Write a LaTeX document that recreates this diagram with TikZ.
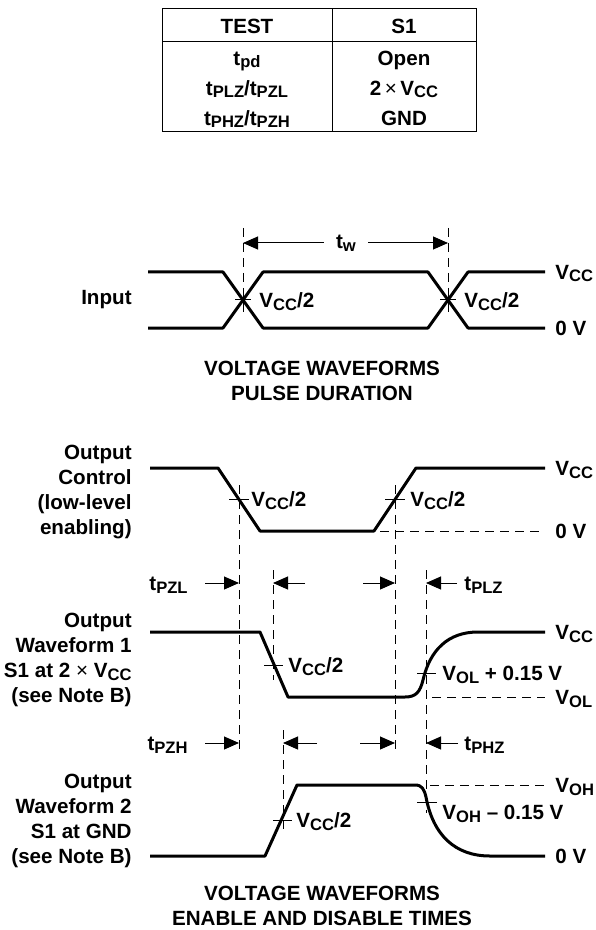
\documentclass[tikz,border=0pt]{standalone}
\usepackage{fontspec}
\setmainfont{Liberation Sans}
\usetikzlibrary{arrows.meta}
\newcommand{\lo}[1]{\raisebox{-1.4pt}{\fontsize{8.3}{8.3}\selectfont #1}}
\tikzset{
  wave/.style={line width=1.5pt, line join=round},
  thin/.style={line width=0.5pt},
  guide/.style={line width=0.5pt, dash pattern=on 4.5pt off 3pt},
  meas/.style={line width=0.5pt, -{Triangle[length=7.5pt,width=6.5pt]}},
  lvl/.style={anchor=base west, inner sep=0pt, yshift=-3.6pt},
  tlbl/.style={anchor=base east, inner sep=0pt, yshift=-3.6pt},
  cell/.style={anchor=base, inner sep=0pt, yshift=-3.6pt},
  sig/.style={anchor=east, align=right, inner sep=0pt}
}

\begin{document}
\begin{tikzpicture}[x=0.5pt,y=-0.5pt,font=\fontsize{10.3}{12.6}\selectfont\bfseries]
    \useasboundingbox (0,0) rectangle (595,930);

    \draw[thin] (162,9) rectangle (476,132);
    \draw[thin] (162,42) -- (476,42);
    \draw[thin] (332,9) -- (332,132);
    \node[cell] (hTest) at (247,26) {TEST};
    \node[cell] (hSw) at (404,26) {S1};
    \node[cell] (rPd) at (247,58) {t\lo{pd}};
    \node[cell] (sPd) at (404,58) {Open};
    \node[cell] (rPlz) at (247,88) {t\lo{PLZ}/t\lo{PZL}};
    \node[cell] (sPlz) at (404,88) {2\,{\mdseries×}\,V\lo{CC}};
    \node[cell] (rPhz) at (247,118) {t\lo{PHZ}/t\lo{PZH}};
    \node[cell] (sPhz) at (404,118) {GND};

    % input pulse
    \draw[wave] (148,272) -- (223,272) -- (263,328) -- (428,328) -- (468,272) -- (545,272);
    \draw[wave] (148,328) -- (223,328) -- (263,272) -- (428,272) -- (468,328) -- (545,328);
    \draw[guide] (243,228) -- (243,318);
    \draw[guide] (448,228) -- (448,318);
    \draw[thin] (235,300) -- (251,300);
    \draw[thin] (440,300) -- (456,300);
    \node[sig] (inName) at (132,300) {Input};
    \node[lvl] (inMidA) at (259,300) {V\lo{CC}/2};
    \node[lvl] (inMidB) at (464,300) {V\lo{CC}/2};
    \node[lvl] (inHi) at (555,272) {V\lo{CC}};
    \node[lvl] (inLo) at (555,328) {0 V};
    \coordinate (twA) at (243,243);
    \coordinate (twB) at (448,243);
    \node[inner xsep=6pt] (tw) at (346,243) {t\lo{w}};
    \draw[meas] (tw) -- (twA);
    \draw[meas] (tw) -- (twB);
    \node[align=center] (capA) at (322,381) {VOLTAGE WAVEFORMS\\PULSE DURATION};

    % output control
    \draw[wave] (150,468) -- (218,468) -- (260,531) -- (374,531) -- (416,468) -- (545,468);
    \draw[guide] (380,531) -- (545,531);
    \draw[thin] (229,499) -- (249,499);
    \draw[thin] (385,499) -- (405,499);
    \node[sig] (ocName) at (132,492) {Output\\Control\\(low-level\\enabling)};
    \node[lvl] (ocMidA) at (251,499) {V\lo{CC}/2};
    \node[lvl] (ocMidB) at (410,499) {V\lo{CC}/2};
    \node[lvl] (ocHi) at (555,468) {V\lo{CC}};
    \node[lvl] (ocLo) at (555,531) {0 V};

    % timing guides
    \draw[guide] (239,485) -- (239,755);
    \draw[guide] (395,485) -- (395,755);
    \draw[guide] (273,570) -- (273,680);
    \draw[guide] (283,730) -- (283,833);
    \draw[guide] (426,570) -- (426,813);

    \coordinate (pzlA) at (239,583);
    \coordinate (pzlB) at (273,583);
    \coordinate (plzA) at (395,583);
    \coordinate (plzB) at (426,583);
    \node[tlbl] (tPzl) at (188,583) {t\lo{PZL}};
    \node[lvl] (tPlz) at (464,583) {t\lo{PLZ}};
    \draw[meas] (pzlA) ++(-34,0) -- (pzlA);
    \draw[meas] (pzlB) ++(32,0) -- (pzlB);
    \draw[meas] (plzA) ++(-32,0) -- (plzA);
    \draw[meas] (plzB) ++(31,0) -- (plzB);

    \coordinate (pzhA) at (239,743);
    \coordinate (pzhB) at (283,743);
    \coordinate (phzA) at (395,743);
    \coordinate (phzB) at (426,743);
    \node[tlbl] (tPzh) at (188,743) {t\lo{PZH}};
    \node[lvl] (tPhz) at (464,743) {t\lo{PHZ}};
    \draw[meas] (pzhA) ++(-34,0) -- (pzhA);
    \draw[meas] (pzhB) ++(34,0) -- (pzhB);
    \draw[meas] (phzA) ++(-35,0) -- (phzA);
    \draw[meas] (phzB) ++(32,0) -- (phzB);

    % waveform 1
    \draw[wave] (150,632) -- (260,632) -- (288,697) -- (405,697)
        .. controls (416,697) and (420,692) .. (423,680)
        .. controls (430,650) and (448,632) .. (478,632) -- (545,632);
    \draw[guide] (432,697) -- (545,697);
    \draw[thin] (264,665) -- (283,665);
    \draw[thin] (417,673) -- (436,673);
    \node[sig] (wOneName) at (132,660) {Output\\Waveform 1\\S1 at 2 {\mdseries×} V\lo{CC}\\(see Note B)};
    \node[lvl] (wOneMid) at (288,665) {V\lo{CC}/2};
    \node[lvl] (wOneRef) at (442,673) {V\lo{OL} + 0.15 V};
    \node[lvl] (wOneHi) at (555,632) {V\lo{CC}};
    \node[lvl] (wOneLo) at (555,697) {V\lo{OL}};

    % waveform 2
    \draw[wave] (150,856) -- (265,856) -- (297,785) -- (415,785)
        .. controls (422,785) and (424,789) .. (426,797)
        .. controls (433,835) and (455,856) .. (490,856) -- (545,856);
    \draw[guide] (430,785) -- (545,785);
    \draw[thin] (273,820) -- (292,820);
    \draw[thin] (417,802) -- (437,802);
    \node[sig] (wTwoName) at (132,821) {Output\\Waveform 2\\S1 at GND\\(see Note B)};
    \node[lvl] (wTwoMid) at (296,820) {V\lo{CC}/2};
    \node[lvl] (wTwoRef) at (442,812) {V\lo{OH} – 0.15 V};
    \node[lvl] (wTwoHi) at (555,785) {V\lo{OH}};
    \node[lvl] (wTwoLo) at (555,856) {0 V};

    \node[align=center] (capB) at (322,906) {VOLTAGE WAVEFORMS\\ENABLE AND DISABLE TIMES};
\end{tikzpicture}
\end{document}
